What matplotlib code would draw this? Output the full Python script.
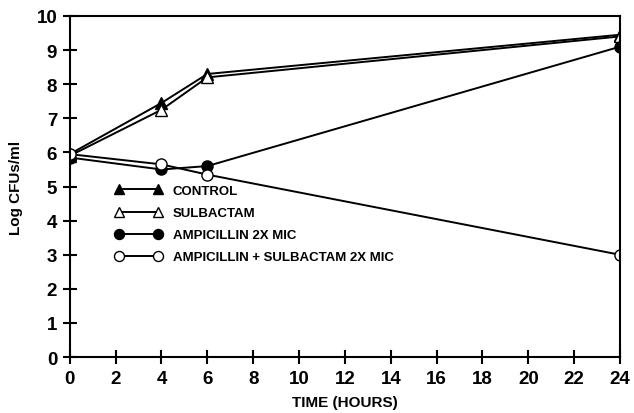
import matplotlib.pyplot as plt

hours = [0, 4, 6, 24]
control = [5.95, 7.45, 8.3, 9.45]
sulbactam = [5.9, 7.25, 8.2, 9.4]
ampicillin = [5.85, 5.5, 5.6, 9.1]
amp_sulb = [5.95, 5.65, 5.35, 3.0]

plt.rcParams["font.family"] = ["Liberation Sans", "DejaVu Sans"]
plt.rcParams["font.weight"] = "bold"

fig = plt.figure(figsize=(6.34, 4.14), dpi=100)
ax = fig.add_axes([0.110, 0.135, 0.868, 0.824])

ms = 8
ax.plot(hours, control, "-^", color="black", mfc="black", ms=ms, lw=1.4, label="CONTROL")
ax.plot(hours, sulbactam, "-^", color="black", mfc="white", ms=ms, lw=1.4, label="SULBACTAM")
ax.plot(hours, ampicillin, "-o", color="black", mfc="black", ms=ms, lw=1.4, label="AMPICILLIN 2X MIC")
ax.plot(hours, amp_sulb, "-o", color="black", mfc="white", ms=ms, lw=1.4,
        label="AMPICILLIN + SULBACTAM 2X MIC")

ax.set_xlim(0, 24)
ax.set_ylim(0, 10)
ax.set_xticks(range(0, 25, 2))
ax.set_yticks(range(0, 11))
ax.tick_params(direction="inout", length=10, width=1.5, labelsize=13.5, pad=4)
for s in ax.spines.values():
    s.set_linewidth(1.5)
ax.set_xlabel("TIME (HOURS)", fontsize=11, fontweight="bold", labelpad=6)
ax.set_ylabel("Log CFUs/ml", fontsize=11, fontweight="bold", labelpad=10)

leg = ax.legend(loc="upper left", bbox_to_anchor=(0.06, 0.54), frameon=False,
                numpoints=2, handlelength=3.6, fontsize=9.5, labelspacing=0.75,
                handletextpad=0.8, markerscale=0.9)
for t in leg.get_texts():
    t.set_fontweight("bold")

fig.savefig("out.png", dpi=100)
